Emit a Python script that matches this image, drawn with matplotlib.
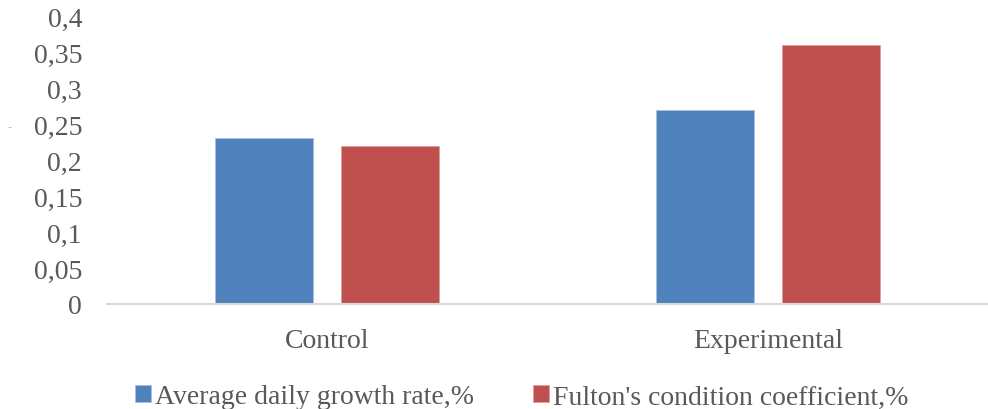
import matplotlib
matplotlib.use("Agg")
import numpy as np
from matplotlib import pyplot
from matplotlib.ticker import FixedLocator, FuncFormatter

groups = ["Control", "Experimental"]
growth_rate = [0.23, 0.27]
fulton_coef = [0.22, 0.36]
series_names = ["Average daily growth rate,%", "Fulton's condition coefficient,%"]
y_ticks = [0, 0.05, 0.1, 0.15, 0.2, 0.25, 0.3, 0.35, 0.4]

blue = "#4f81bd"
red = "#c0504d"
text_grey = "#595959"

pyplot.rcParams["font.family"] = ["Liberation Serif", "DejaVu Serif"]

fig = pyplot.figure(figsize=(9.88, 4.10), dpi=100, facecolor="w")
ax = fig.add_axes([107 / 988, 1 - 305 / 410, 881 / 988, 288 / 410])

x = np.arange(len(groups))
width = 0.223
offset = 0.143
ax.bar(x - offset, growth_rate, width, color=blue, edgecolor="#a9c0e0", linewidth=0.6,
       label=series_names[0])
ax.bar(x + offset, fulton_coef, width, color=red, edgecolor="#dca09e", linewidth=0.6,
       label=series_names[1])

ax.set_xlim(-0.5, len(groups) - 0.5)
ax.set_ylim(0, 0.4)
ax.yaxis.set_major_locator(FixedLocator(y_ticks))
ax.yaxis.set_major_formatter(FuncFormatter(lambda v, p: ("%g" % round(v, 2)).replace(".", ",")))
ax.set_xticks(x)
ax.set_xticklabels(groups)

for side in ["top", "right", "left"]:
    ax.spines[side].set_visible(False)
ax.spines["bottom"].set_color("#d9d9d9")
ax.spines["bottom"].set_linewidth(1.5)
ax.tick_params(axis="both", length=0, labelsize=20, colors=text_grey)
ax.tick_params(axis="y", pad=18)
ax.tick_params(axis="x", pad=17)

leg = ax.legend(loc="center left", bbox_to_anchor=(135 / 988, 12 / 410), bbox_transform=fig.transFigure,
                ncol=2, frameon=False, fontsize=20, handlelength=0.58, handleheight=0.58,
                handletextpad=0.15, columnspacing=2.1, labelcolor=text_grey,
                borderpad=0, borderaxespad=0)

# small stray mark left of the axis
fig.text(8 / 988, 1 - 128 / 410, "-", color="#c0c0c0", fontsize=9, va="center")

pyplot.savefig("out.png", dpi=100)
